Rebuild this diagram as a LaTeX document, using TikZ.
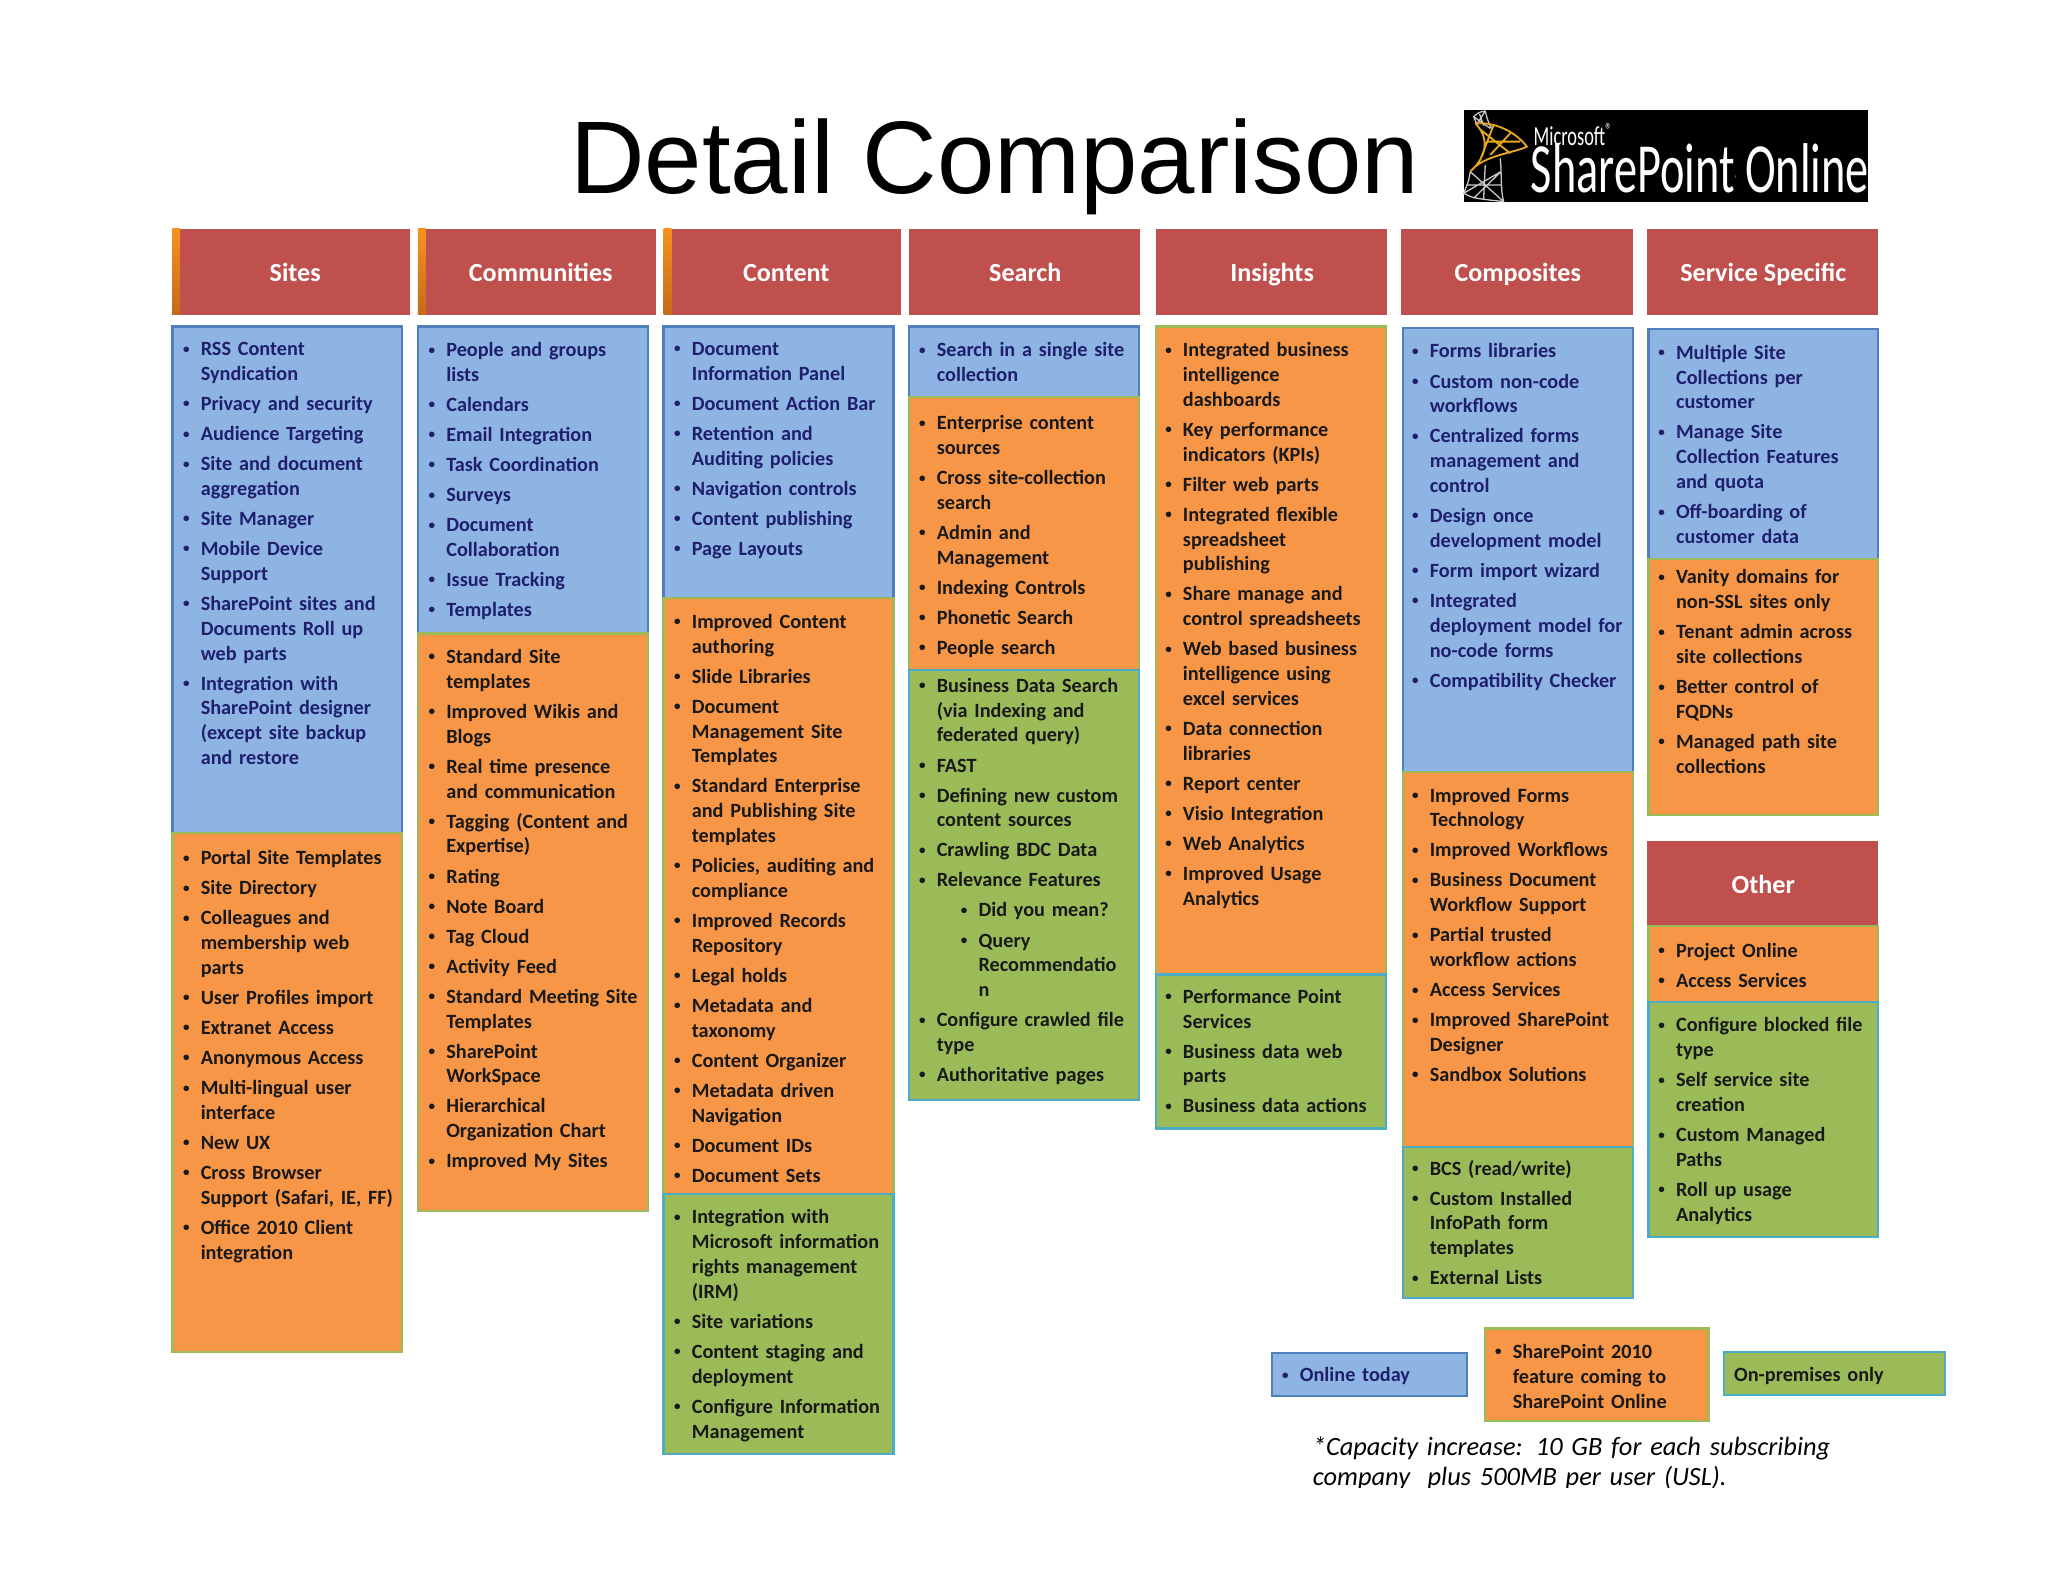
\documentclass[tikz,border=0pt]{standalone}
\usepackage{fontspec}
\setmainfont{Carlito}
\newfontfamily\titlefont{Liberation Sans}
\definecolor{redhead}{HTML}{C0504D}
\definecolor{stripe}{HTML}{F79220}
\definecolor{stripedark}{HTML}{C46A1A}
\definecolor{bluefill}{HTML}{8EB4E3}
\definecolor{blueline}{HTML}{4F7FBD}
\definecolor{bluetext}{HTML}{1F1F6E}
\definecolor{orangefill}{HTML}{F79646}
\definecolor{greenfill}{HTML}{9BBB59}
\definecolor{greenline}{HTML}{4BACC6}
\definecolor{latticegold}{HTML}{E8A820}
\definecolor{latticegray}{HTML}{C8C8C8}
\newcommand{\smallbul}{\raisebox{2pt}{\fontsize{10}{10}\selectfont\textbullet}}
\newcommand{\itm}[1]{{\let\\\newline\noindent\hangindent=13.5pt\hangafter=1\makebox[13.5pt][l]{\smallbul}#1\par}}
\newcommand{\subitm}[1]{{\let\\\newline\noindent\hangindent=45.5pt\hangafter=1\hspace*{32pt}\makebox[13.5pt][l]{\smallbul}#1\par}}
\tikzset{
	header/.style={anchor=base,inner sep=0pt,text=white,font=\fontsize{20}{24}\selectfont\bfseries},
	redbox/.style={fill=redhead,draw=none},
	bluebox/.style={fill=bluefill,draw=blueline,line width=1.8pt},
	orangebox/.style={fill=orangefill,draw=greenfill,line width=1.8pt},
	greenbox/.style={fill=greenfill,draw=greenline,line width=1.8pt},
	itemlist/.style={anchor=north west,inner sep=0pt,text width=172pt,yshift=-3pt,
		font=\fontsize{15.5}{19}\selectfont\bfseries,
		execute at begin node={\setlength{\parskip}{4pt}}},
	bluelist/.style={itemlist,text=bluetext},
	blacklist/.style={itemlist,text=black!90}
}
\begin{document}
\begin{tikzpicture}[x=1pt,y=-1pt]
	\useasboundingbox (0,0) rectangle (1568,1211.2);
	\node[anchor=base west,inner sep=0pt,font=\fontsize{79}{90}\selectfont\titlefont] (title) at (436.5,148.5) {Detail Comparison};
	% logo
	\fill[black] (1121,84) rectangle (1430,155);
	\begin{scope}[shift={(1118,80.4)},x=.255pt,y=-.255pt]
		\draw[latticegray,line width=1pt] (40,35) .. controls (55,22) .. (75,18) .. controls (80,40) and (85,55) .. (95,72) (40,35) .. controls (45,45) .. (50,58) (40,35) -- (90,70) (75,18) -- (50,58) (58,27) -- (70,62);
		\draw[latticegray,line width=1pt] (30,200) .. controls (25,230) .. (10,265) .. controls (40,280) .. (130,290) .. controls (120,250) and (125,200) .. (120,160) (30,200) -- (130,290) (10,265) -- (122,200) (75,180) -- (70,285) (20,240) -- (122,240) (122,200) -- (40,280);
		\draw[latticegold,line width=1.4pt] (45,55) .. controls (110,50) and (170,85) .. (200,125) .. controls (160,145) and (70,150) .. (30,200) (45,55) .. controls (85,95) and (85,150) .. (30,200) (100,60) -- (60,165) (150,85) -- (90,150) (62,75) -- (150,145) (80,110) -- (180,110);
	\end{scope}
	\node[inner sep=0pt,text=white,font=\fontsize{21}{24}\selectfont,xscale=.67,transform shape,anchor=west] (msword) at (1174,103) {Microsoft\textsuperscript{®}};
	\node[inner sep=0pt,text=white,font=\fontsize{54}{58}\selectfont,xscale=.657,transform shape,anchor=west] (spword) at (1172,128.5) {SharePoint\textsuperscript{\tiny ®}\,Online};
	% header row
	\fill[redbox] (132,175) rectangle (314,241);
	\shade[top color=stripe,bottom color=stripedark] (132,175) rectangle (138,241);
	\fill[redbox] (320,175) rectangle (502,241);
	\shade[top color=stripe,bottom color=stripedark] (320,175) rectangle (326,241);
	\fill[redbox] (508,175) rectangle (690,241);
	\shade[top color=stripe,bottom color=stripedark] (508,175) rectangle (514,241);
	\fill[redbox] (696,175) rectangle (873,241);
	\fill[redbox] (885,175) rectangle (1062,241);
	\fill[redbox] (1073,175) rectangle (1250,241);
	\fill[redbox] (1261,175) rectangle (1438,241);
	\fill[redbox] (1261,644) rectangle (1438,709);
	\node[header] (sites) at (226,215.5) {Sites};
	\node[header] (communities) at (414,215.5) {Communities};
	\node[header] (content) at (602,215.5) {Content};
	\node[header] (search) at (785,215.5) {Search};
	\node[header] (insights) at (974,215.5) {Insights};
	\node[header] (composites) at (1162,215.5) {Composites};
	\node[header] (service) at (1350,215.5) {Service Specific};
	\node[header] (other) at (1350,684) {Other};
	% Sites
	\draw[bluebox] (132,250) rectangle (308,638);
	\draw[orangebox] (132,638) rectangle (308,1035);
	\node[bluelist] (sitesblue) at (140,259) {
		\itm{RSS Content\\Syndication}
		\itm{Privacy and security}
		\itm{Audience Targeting}
		\itm{Site and document\\aggregation}
		\itm{Site Manager}
		\itm{Mobile Device\\Support}
		\itm{SharePoint sites and\\Documents Roll up\\web parts}
		\itm{Integration with\\SharePoint designer\\(except site backup\\and restore}
	};
	\node[blacklist] (sitesorange) at (140,648) {
		\itm{Portal Site Templates}
		\itm{Site Directory}
		\itm{Colleagues and\\membership web\\parts}
		\itm{User Profiles import}
		\itm{Extranet Access}
		\itm{Anonymous Access}
		\itm{Multi-lingual user\\interface}
		\itm{New UX}
		\itm{Cross Browser\\Support (Safari, IE, FF)}
		\itm{Office 2010 Client\\integration}
	};
	% Communities
	\draw[bluebox] (320,250) rectangle (496,485);
	\draw[orangebox] (320,485) rectangle (496,927);
	\node[bluelist] (commblue) at (328,259) {
		\itm{People and groups\\lists}
		\itm{Calendars}
		\itm{Email Integration}
		\itm{Task Coordination}
		\itm{Surveys}
		\itm{Document\\Collaboration}
		\itm{Issue Tracking}
		\itm{Templates}
	};
	\node[blacklist] (commorange) at (328,494) {
		\itm{Standard Site\\templates}
		\itm{Improved Wikis and\\Blogs}
		\itm{Real time presence\\and communication}
		\itm{Tagging (Content and\\Expertise)}
		\itm{Rating}
		\itm{Note Board}
		\itm{Tag Cloud}
		\itm{Activity Feed}
		\itm{Standard Meeting Site\\Templates}
		\itm{SharePoint\\WorkSpace}
		\itm{Hierarchical\\Organization Chart}
		\itm{Improved My Sites}
	};
	% Content
	\draw[bluebox] (508,250) rectangle (684,458);
	\draw[orangebox] (508,458) rectangle (684,914);
	\draw[greenbox] (508,914) rectangle (684,1113);
	\node[bluelist] (contblue) at (516,259) {
		\itm{Document\\Information Panel}
		\itm{Document Action Bar}
		\itm{Retention and\\Auditing policies}
		\itm{Navigation controls}
		\itm{Content publishing}
		\itm{Page Layouts}
	};
	\node[blacklist] (contorange) at (516,467) {
		\itm{Improved Content\\authoring}
		\itm{Slide Libraries}
		\itm{Document\\Management Site\\Templates}
		\itm{Standard Enterprise\\and Publishing Site\\templates}
		\itm{Policies, auditing and\\compliance}
		\itm{Improved Records\\Repository}
		\itm{Legal holds}
		\itm{Metadata and\\taxonomy}
		\itm{Content Organizer}
		\itm{Metadata driven\\Navigation}
		\itm{Document IDs}
		\itm{Document Sets}
	};
	\node[blacklist] (contgreen) at (516,923) {
		\itm{Integration with\\Microsoft information\\rights management\\(IRM)}
		\itm{Site variations}
		\itm{Content staging and\\deployment}
		\itm{Configure Information\\Management}
	};
	% Search
	\draw[bluebox] (696,250) rectangle (872,304);
	\draw[orangebox] (696,304) rectangle (872,513);
	\draw[greenbox] (696,513) rectangle (872,842);
	\node[bluelist] (searchblue) at (703.5,259) {
		\itm{Search in a single site\\collection}
	};
	\node[blacklist] (searchorange) at (703.5,315) {
		\itm{Enterprise content\\sources}
		\itm{Cross site-collection\\search}
		\itm{Admin and\\Management}
		\itm{Indexing Controls}
		\itm{Phonetic Search}
		\itm{People search}
	};
	\node[blacklist] (searchgreen) at (703.5,516) {
		\itm{Business Data Search\\(via Indexing and\\federated query)}
		\itm{FAST}
		\itm{Defining new custom\\content sources}
		\itm{Crawling BDC Data}
		\itm{Relevance Features}
		\subitm{Did you mean?}
		\subitm{Query\\Recommendatio\\n}
		\itm{Configure crawled file\\type}
		\itm{Authoritative pages}
	};
	% Insights
	\draw[orangebox] (885,250) rectangle (1061,746);
	\draw[greenbox] (885,746) rectangle (1061,864);
	\node[blacklist] (insorange) at (892,259) {
		\itm{Integrated business\\intelligence\\dashboards}
		\itm{Key performance\\indicators (KPIs)}
		\itm{Filter web parts}
		\itm{Integrated flexible\\spreadsheet\\publishing}
		\itm{Share manage and\\control spreadsheets}
		\itm{Web based business\\intelligence using\\excel services}
		\itm{Data connection\\libraries}
		\itm{Report center}
		\itm{Visio Integration}
		\itm{Web Analytics}
		\itm{Improved Usage\\Analytics}
	};
	\node[blacklist] (insgreen) at (892,754) {
		\itm{Performance Point\\Services}
		\itm{Business data web\\parts}
		\itm{Business data actions}
	};
	% Composites
	\draw[bluebox] (1074,251) rectangle (1250,591);
	\draw[orangebox] (1074,591) rectangle (1250,878);
	\draw[greenbox] (1074,878) rectangle (1250,994);
	\node[bluelist] (compblue) at (1081,260) {
		\itm{Forms libraries}
		\itm{Custom non-code\\workflows}
		\itm{Centralized forms\\management and\\control}
		\itm{Design once\\development model}
		\itm{Form import wizard}
		\itm{Integrated\\deployment model for\\no-code forms}
		\itm{Compatibility Checker}
	};
	\node[blacklist] (comporange) at (1081,600) {
		\itm{Improved Forms\\Technology}
		\itm{Improved Workflows}
		\itm{Business Document\\Workflow Support}
		\itm{Partial trusted\\workflow actions}
		\itm{Access Services}
		\itm{Improved SharePoint\\Designer}
		\itm{Sandbox Solutions}
	};
	\node[blacklist] (compgreen) at (1081,885) {
		\itm{BCS (read/write)}
		\itm{Custom Installed\\InfoPath form\\templates}
		\itm{External Lists}
	};
	% Service Specific
	\draw[bluebox] (1262,252) rectangle (1438,428);
	\draw[orangebox] (1262,428) rectangle (1438,624);
	\node[bluelist] (servblue) at (1269.5,261) {
		\itm{Multiple Site\\Collections per\\customer}
		\itm{Manage Site\\Collection Features\\and quota}
		\itm{Off-boarding of\\customer data}
	};
	\node[blacklist] (servorange) at (1269.5,433) {
		\itm{Vanity domains for\\non-SSL sites only}
		\itm{Tenant admin across\\site collections}
		\itm{Better control of\\FQDNs}
		\itm{Managed path site\\collections}
	};
	% Other
	\draw[orangebox] (1262,709) rectangle (1438,767);
	\draw[greenbox] (1262,767) rectangle (1438,947);
	\node[blacklist] (otherorange) at (1269.5,719) {
		\itm{Project Online}
		\itm{Access Services}
	};
	\node[blacklist] (othergreen) at (1269.5,776) {
		\itm{Configure blocked file\\type}
		\itm{Self service site\\creation}
		\itm{Custom Managed\\Paths}
		\itm{Roll up usage\\Analytics}
	};
	% legend
	\draw[bluebox] (974,1036) rectangle (1123,1069);
	\draw[orangebox] (1137,1017) rectangle (1308,1088);
	\draw[greenbox] (1320,1035) rectangle (1489,1068);
	\node[bluelist] (legendblue) at (981.5,1044) {\itm{Online today}};
	\node[blacklist] (legendorange) at (1144.5,1026) {\itm{SharePoint 2010\\feature coming to\\SharePoint Online}};
	\node[blacklist] (legendgreen) at (1327.5,1044) {On-premises only};
	% note, cut off at the bottom as in the slide
	\begin{scope}
		\clip (990,1090) rectangle (1420,1139);
		\node[anchor=north west,inner sep=0pt,text width=420pt,font=\fontsize{20.2}{23}\selectfont\itshape] (note) at (1005,1100) {*Capacity increase: 10 GB for each subscribing\\company\ \ plus 500MB per user (USL).};
	\end{scope}
\end{tikzpicture}
\end{document}
